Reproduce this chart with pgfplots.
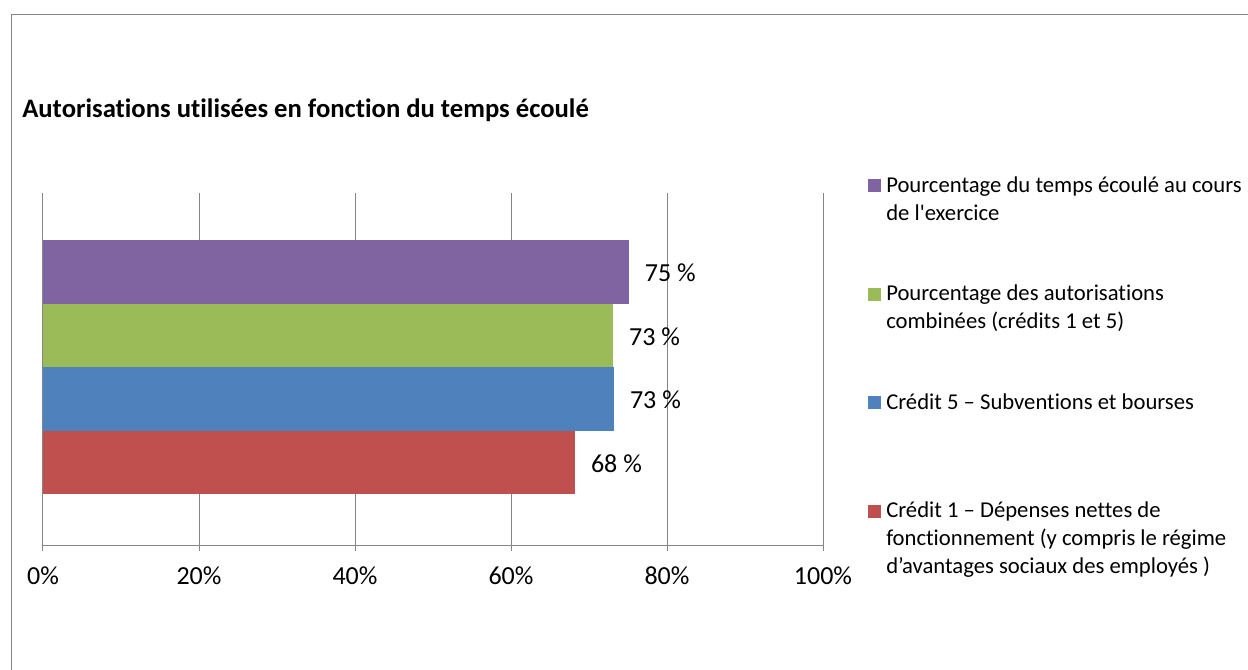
\documentclass[border=0pt]{standalone}
\usepackage{pgfplots}
\pgfplotsset{compat=1.18}
\usepackage{fontspec}
\setmainfont{Carlito}[Ligatures=NoCommon]

\definecolor{cPurple}{HTML}{8064A2}
\definecolor{cGreen}{HTML}{9BBB59}
\definecolor{cBlue}{HTML}{4F81BD}
\definecolor{cRed}{HTML}{C0504D}
\definecolor{gridgray}{HTML}{868686}

% legend entry, baseline on the first line (\par separates lines)
\newcommand\lgd[1]{\vtop{\hsize=300pt\parindent=0pt\parskip=0pt\strut#1\par}}

\begin{document}
\begin{tikzpicture}
\path[use as bounding box, clip] (0,0) rectangle (936pt,-501.75pt);
\draw[gridgray, line width=0.75pt] (8.25pt,-10.5pt) rectangle (980pt,-540pt);
\node[anchor=base west, font=\bfseries\fontsize{20}{24}\selectfont, inner sep=0pt]
  at (16.5pt,-87.75pt) {Autorisations utilisées en fonction du temps écoulé};

\begin{axis}[
  at={(32.25pt,-408.75pt)}, anchor=south west,
  scale only axis, width=585pt, height=264pt,
  xmin=0, xmax=100, ymin=-1.3, ymax=4.24,
  axis y line=none, axis x line*=bottom,
  xtick={0,20,...,100}, ytick=\empty,
  xmajorgrids, grid style={color=gridgray, line width=0.75pt},
  x axis line style={gridgray, line width=0.75pt},
  xtick align=outside, major tick length=4.5pt,
  xtick style={gridgray, line width=0.75pt},
  xticklabel={\pgfmathprintnumber{\tick}\%},
  /pgf/number format/assume math mode=true,
  xticklabel style={font=\fontsize{19.5}{23}\selectfont, yshift=-8pt},
  clip=false,
  point meta=x,
  nodes near coords={\pgfmathprintnumber[fixed,precision=0]{\pgfplotspointmeta}~\%},
  every node near coord/.append style={font=\fontsize{19.5}{23}\selectfont, anchor=west, xshift=8.5pt, yshift=-1pt},
  legend cell align=left,
  legend style={at={(1.0577,1.058)}, anchor=north west, draw=none, fill=none,
    inner sep=0pt, row sep=0pt, column sep=3.75pt,
    font=\fontsize{17}{20.8}\selectfont,
    nodes={inner sep=0pt, text height=14.6pt, text depth=66.8pt},
    cells={anchor=base west}},
  legend image code/.code={\fill[#1] (0pt,0pt) rectangle (9.75pt,9.75pt);},
  mybar/.style={xbar, bar width=1, bar shift=0pt, draw=none},
]
\addplot[mybar, fill=cPurple] coordinates {(75.1,3)};
\addlegendentry{\lgd{Pourcentage du temps écoulé au cours\par de l\textquotesingle exercice}}
\addplot[mybar, fill=cGreen] coordinates {(73.1,2)};
\addlegendentry{\lgd{Pourcentage des autorisations\par combinées (crédits 1 et 5)}}
\addplot[mybar, fill=cBlue] coordinates {(73.2,1)};
\addlegendentry{\lgd{Crédit 5 – Subventions et bourses}}
\addplot[mybar, fill=cRed] coordinates {(68.2,0)};
\addlegendentry{\lgd{Crédit 1 – Dépenses nettes de\par fonctionnement (y compris le régime\par d’avantages sociaux des employés )}}
\end{axis}
\end{tikzpicture}
\end{document}
